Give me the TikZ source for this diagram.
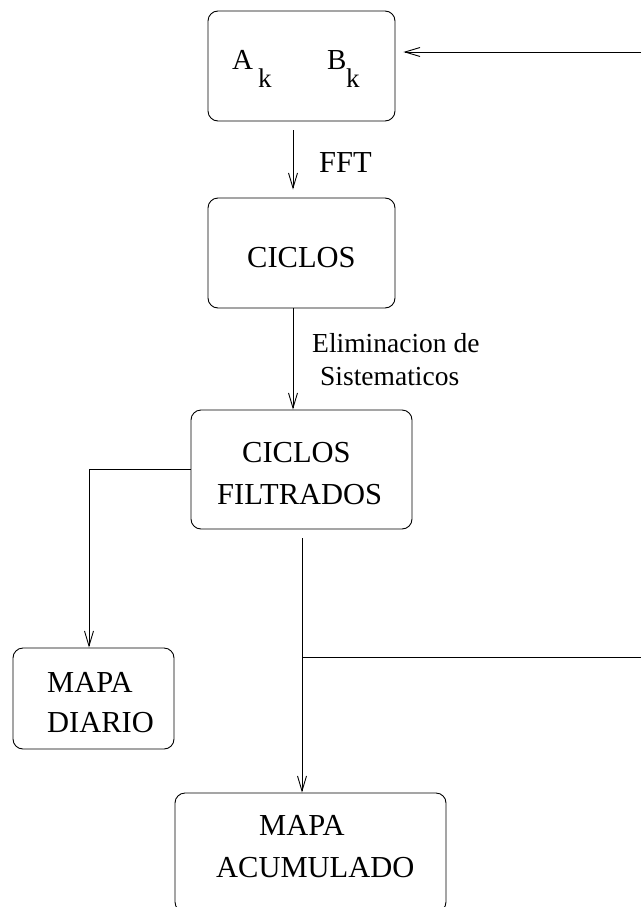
\documentclass[tikz,border=0pt]{standalone}
\usepackage{fontspec}
\setmainfont{Liberation Serif}
\usetikzlibrary{arrows.meta}
\begin{document}
\begin{tikzpicture}[x=1pt,y=-1pt,
  box/.style={draw,line width=0.9pt,rounded corners=10pt,inner sep=0pt},
  arr/.style={line width=0.9pt,-{Straight Barb[length=15pt,width=9pt,line width=0.9pt]}},
  ln/.style={line width=0.9pt},
  txt/.style={anchor=base west,inner sep=0pt,font=\fontsize{30.5}{36}\selectfont},
  sml/.style={anchor=base west,inner sep=0pt,font=\fontsize{27.5}{32}\selectfont},
  abt/.style={anchor=base west,inner sep=0pt,font=\fontsize{29}{32}\selectfont},
  sub/.style={anchor=base west,inner sep=0pt,font=\fontsize{27}{30}\selectfont}]
\clip (0,0) rectangle (641,907);
\useasboundingbox (0,0) rectangle (641,907);

% boxes
\node[box,minimum width=187pt,minimum height=110pt] (b1) at (301.5,66) {};
\node[box,minimum width=187pt,minimum height=110pt] (b2) at (301.5,253) {};
\node[box,minimum width=221pt,minimum height=119pt] (b3) at (301.5,469.5) {};
\node[box,minimum width=161pt,minimum height=101pt] (b4) at (93.5,698.5) {};
\node[box,minimum width=271pt,minimum height=119pt] (b5) at (310.5,852.5) {};

% texts
\node[abt] (ta) at (232,70) {A};
\node[sub] (tak) at (258,87) {k};
\node[abt] (tb) at (327,70) {B};
\node[sub] (tbk) at (346,87) {k};
\node[txt] (tfft) at (319,172) {FFT};
\node[txt] (tc) at (247,267) {CICLOS};
\node[sml] (te1) at (312,352) {Eliminacion de};
\node[sml] (te2) at (320,385) {Sistematicos};
\node[txt] (tf1) at (242,462) {CICLOS};
\node[txt] (tf2) at (217,504) {FILTRADOS};
\node[txt] (td1) at (47,692) {MAPA};
\node[txt] (td2) at (47,732) {DIARIO};
\node[txt] (tm1) at (259,835) {MAPA};
\node[txt] (tm2) at (216,877) {ACUMULADO};

% connector coordinates
\coordinate (rin) at (641,52);
\coordinate (rout) at (641,657);
\coordinate (j) at (302,657);

% connectors
\draw[arr,shorten >=8pt] (rin) -- (rin -| b1.east);
\draw[arr,shorten >=8pt] ([xshift=-8.5pt,yshift=-9pt]b1.south) -- ([xshift=-8.5pt]b2.north);
\draw[arr] ([xshift=-8.5pt]b2.south) -- ([xshift=-8.5pt]b3.north);
\draw[arr] (b3.west) -| ([xshift=-4.5pt]b4.north);
\draw[arr] ([xshift=0.5pt,yshift=-9pt]b3.south) -- ([xshift=-8.5pt]b5.north);
\draw[ln] (j) -- (rout);
\end{tikzpicture}
\end{document}
